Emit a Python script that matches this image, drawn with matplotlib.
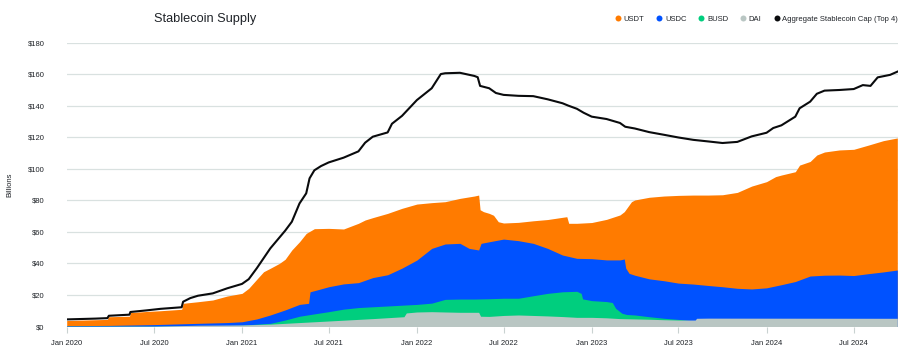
import matplotlib
matplotlib.use('Agg')
import matplotlib.pyplot as plt
import matplotlib.dates as mdates
from matplotlib.lines import Line2D
from matplotlib.ticker import FuncFormatter
import pandas as pd

plt.rcParams['font.family'] = ['Liberation Sans', 'DejaVu Sans']

# ---------------- data (billions USD) ----------------
usdt_dates = ['2020-01-01', '2020-03-26', '2020-03-28', '2020-05-11', '2020-05-13', '2020-06-15',
              '2020-07-15', '2020-08-28', '2020-08-31', '2020-10-01', '2020-11-01', '2020-12-01',
              '2021-01-01', '2021-01-15', '2021-02-01', '2021-02-15', '2021-03-01', '2021-03-20',
              '2021-04-01', '2021-04-15', '2021-05-01', '2021-05-15', '2021-06-01', '2021-07-01',
              '2021-08-01', '2021-09-01', '2021-09-15', '2021-10-01', '2021-11-01', '2021-12-01',
              '2022-01-01', '2022-02-01', '2022-03-01', '2022-04-01', '2022-05-01', '2022-05-10',
              '2022-05-13', '2022-05-20', '2022-06-01', '2022-06-10', '2022-06-20', '2022-07-01',
              '2022-08-01', '2022-09-01', '2022-10-01', '2022-11-01', '2022-11-10', '2022-11-14',
              '2022-12-01', '2023-01-01', '2023-02-01', '2023-03-01', '2023-03-10', '2023-03-25',
              '2023-04-01', '2023-05-01', '2023-06-01', '2023-07-01', '2023-08-01', '2023-09-01',
              '2023-10-01', '2023-11-01', '2023-12-01', '2024-01-01', '2024-01-20', '2024-02-01',
              '2024-03-01', '2024-03-10', '2024-04-01', '2024-04-15', '2024-05-01', '2024-06-01',
              '2024-07-01', '2024-08-01', '2024-09-01', '2024-09-30']
usdt_vals = [3.8, 4.5, 6.2, 6.5, 8.8, 9.5,
             10.0, 10.9, 14.7, 15.7, 16.8, 19.3,
             21.0, 24.2, 30.0, 34.7, 36.9, 40.0,
             42.6, 48.5, 53.7, 59.0, 62.0, 62.2,
             61.8, 65.4, 67.5, 69.0, 71.7, 74.9,
             77.6, 78.5, 79.1, 81.2, 82.7, 83.3,
             74.0, 72.8, 71.7, 70.5, 66.4, 65.6,
             66.0, 67.0, 67.8, 69.2, 69.6, 65.4,
             65.4, 65.9, 67.9, 70.7, 72.8, 79.1,
             80.2, 81.9, 82.7, 83.1, 83.3, 83.3,
             83.5, 85.0, 89.0, 91.8, 95.0, 96.0,
             98.1, 102.3, 104.6, 108.7, 110.6, 111.9,
             112.3, 115.0, 117.8, 119.5]

usdc_dates = ['2020-01-01', '2020-04-01', '2020-07-01', '2020-10-01', '2020-12-01', '2021-01-01',
              '2021-02-01', '2021-03-01', '2021-04-01', '2021-05-01', '2021-05-20', '2021-05-23',
              '2021-06-01', '2021-07-01', '2021-08-01', '2021-09-01', '2021-10-01', '2021-11-01',
              '2021-12-01', '2022-01-01', '2022-02-01', '2022-03-01', '2022-04-01', '2022-04-20',
              '2022-05-10', '2022-05-15', '2022-06-01', '2022-07-01', '2022-08-01', '2022-09-01',
              '2022-10-01', '2022-11-01', '2022-12-01', '2023-01-01', '2023-02-01', '2023-03-01',
              '2023-03-10', '2023-03-13', '2023-03-20', '2023-04-01', '2023-05-01', '2023-06-01',
              '2023-07-01', '2023-08-01', '2023-09-01', '2023-10-01', '2023-11-01', '2023-12-01',
              '2024-01-01', '2024-02-01', '2024-03-01', '2024-04-01', '2024-05-01', '2024-06-01',
              '2024-07-01', '2024-08-01', '2024-09-01', '2024-09-30']
usdc_vals = [0.5, 0.7, 1.2, 2.0, 2.5, 3.0,
             4.8, 7.3, 10.5, 14.0, 14.7, 22.0,
             22.7, 25.2, 27.0, 27.8, 31.0, 32.8,
             37.0, 42.1, 49.5, 52.3, 52.7, 49.5,
             48.5, 52.7, 53.7, 55.4, 54.4, 52.7,
             49.5, 45.3, 43.2, 43.0, 42.2, 42.2,
             42.8, 37.0, 33.7, 32.5, 30.2, 29.0,
             27.5, 26.9, 26.0, 25.2, 24.2, 23.8,
             24.5, 26.5, 28.5, 32.0, 32.5, 32.6,
             32.3, 33.5, 34.6, 35.8]

busd_dates = ['2020-01-01', '2020-07-01', '2020-10-01', '2021-01-01', '2021-02-01', '2021-03-01',
              '2021-04-01', '2021-05-01', '2021-06-01', '2021-07-01', '2021-08-01', '2021-09-01',
              '2021-10-01', '2021-11-01', '2021-12-01', '2022-01-01', '2022-02-01', '2022-03-01',
              '2022-04-01', '2022-05-01', '2022-06-01', '2022-07-01', '2022-08-01', '2022-09-01',
              '2022-10-01', '2022-11-01', '2022-12-01', '2022-12-10', '2022-12-13', '2023-01-01',
              '2023-02-01', '2023-02-13', '2023-02-20', '2023-03-05', '2023-03-15', '2023-04-01',
              '2023-05-01', '2023-06-01', '2023-07-01', '2023-08-01', '2023-09-01', '2023-10-01',
              '2023-11-01', '2023-12-01', '2024-01-01', '2024-04-01', '2024-09-30']
busd_vals = [0.15, 0.2, 0.3, 0.8, 1.5, 2.0,
             4.1, 6.5, 8.0, 9.4, 11.0, 12.0,
             12.5, 13.0, 13.5, 14.0, 14.8, 17.2,
             17.4, 17.4, 17.6, 17.9, 17.9, 19.5,
             21.0, 22.0, 22.3, 21.0, 17.5, 16.4,
             15.8, 15.2, 11.5, 8.4, 7.6, 7.3,
             6.2, 5.2, 4.5, 3.5, 2.8, 2.5,
             2.0, 1.5, 1.0, 0.3, 0.06]

dai_dates = ['2020-01-01', '2020-07-01', '2020-10-01', '2021-01-01', '2021-03-01', '2021-04-01',
             '2021-05-01', '2021-06-01', '2021-08-01', '2021-10-01', '2021-12-05', '2021-12-10',
             '2022-01-01', '2022-02-01', '2022-03-01', '2022-04-01', '2022-05-10', '2022-05-14',
             '2022-06-01', '2022-07-01', '2022-08-01', '2022-09-01', '2022-10-01', '2022-11-01',
             '2022-12-01', '2023-01-01', '2023-02-01', '2023-03-01', '2023-04-01', '2023-05-01',
             '2023-06-01', '2023-07-01', '2023-08-05', '2023-08-08', '2023-09-01', '2024-09-30']
dai_vals = [0.1, 0.2, 0.8, 1.0, 1.5, 2.0,
            2.5, 3.0, 4.0, 5.0, 6.2, 8.6,
            9.2, 9.4, 9.2, 9.0, 9.0, 6.5,
            6.4, 7.0, 7.3, 7.0, 6.7, 6.3,
            5.8, 5.8, 5.5, 5.0, 4.8, 4.6,
            4.3, 4.1, 4.1, 5.2, 5.3, 5.2]

total_dates = ['2020-01-01', '2020-03-01', '2020-03-26', '2020-03-29', '2020-05-11', '2020-05-13',
               '2020-06-15', '2020-07-15', '2020-08-28', '2020-08-31', '2020-09-15', '2020-10-01',
               '2020-11-01', '2020-12-01', '2021-01-01', '2021-01-15', '2021-02-01', '2021-03-01',
               '2021-04-01', '2021-04-15', '2021-05-01', '2021-05-15', '2021-05-22', '2021-06-01',
               '2021-06-15', '2021-07-01', '2021-08-01', '2021-09-01', '2021-09-15', '2021-10-01',
               '2021-11-01', '2021-11-10', '2021-12-01', '2022-01-01', '2022-02-01', '2022-02-20',
               '2022-03-01', '2022-04-01', '2022-05-01', '2022-05-08', '2022-05-13', '2022-06-01',
               '2022-06-15', '2022-07-01', '2022-08-01', '2022-09-01', '2022-10-01', '2022-11-01',
               '2022-11-13', '2022-12-01', '2022-12-15', '2023-01-01', '2023-02-01', '2023-03-01',
               '2023-03-12', '2023-04-01', '2023-05-01', '2023-06-01', '2023-07-01', '2023-08-01',
               '2023-09-01', '2023-10-01', '2023-11-01', '2023-12-01', '2024-01-01', '2024-01-15',
               '2024-02-01', '2024-03-01', '2024-03-10', '2024-04-01', '2024-04-15', '2024-05-01',
               '2024-06-01', '2024-07-01', '2024-07-20', '2024-08-05', '2024-08-20', '2024-09-15',
               '2024-09-30']
total_vals = [4.5, 5.0, 5.3, 6.8, 7.5, 9.2,
              10.2, 11.2, 12.2, 15.7, 18.0, 19.5,
              21.0, 24.2, 27.0, 30.0, 37.0, 49.5,
              60.7, 66.4, 78.0, 84.4, 93.9, 99.0,
              101.7, 104.0, 107.0, 111.0, 116.5, 120.3,
              123.0, 128.5, 133.5, 143.5, 151.0, 160.0,
              160.5, 160.8, 158.8, 158.0, 152.5, 151.0,
              148.0, 146.8, 146.2, 146.0, 144.0, 141.5,
              140.0, 138.0, 135.5, 133.0, 131.5, 129.0,
              126.6, 125.5, 123.2, 121.5, 119.8, 118.3,
              117.3, 116.3, 117.0, 120.5, 122.8, 125.8,
              127.5, 133.0, 138.3, 142.5, 147.5, 149.5,
              149.9, 150.5, 153.0, 152.5, 157.9, 159.5,
              161.5]

y_ticks = [0, 20, 40, 60, 80, 100, 120, 140, 160, 180]
x_ticks = ['2020-01-01', '2020-07-01', '2021-01-01', '2021-07-01', '2022-01-01',
           '2022-07-01', '2023-01-01', '2023-07-01', '2024-01-01', '2024-07-01']

# ---------------- style ----------------
C_USDT = '#FF7B00'
C_USDC = '#0052FF'
C_BUSD = '#00CE7E'
C_DAI = '#B9C6C3'
C_TOT = '#0A0B0D'
GRID = '#D9E1E0'
TXT = '#1F2328'

fig = plt.figure(figsize=(9.04, 3.52), dpi=100)
ax = fig.add_axes([66.7 / 904, 1 - 326.5 / 352, (897.8 - 66.7) / 904, (326.5 - 42.5) / 352])

series = [
    (usdt_dates, usdt_vals, C_USDT),
    (usdc_dates, usdc_vals, C_USDC),
    (busd_dates, busd_vals, C_BUSD),
    (dai_dates, dai_vals, C_DAI),
]
for d, v, c in series:
    ax.fill_between(pd.to_datetime(d), 0, v, color=c, linewidth=0, zorder=2)

ax.plot(pd.to_datetime(total_dates), total_vals, color=C_TOT, lw=1.5, zorder=4,
        solid_joinstyle='round')

ax.set_xlim(pd.Timestamp('2020-01-01'), pd.Timestamp('2024-10-01'))
ax.set_ylim(0, 180)
ax.set_yticks(y_ticks)
ax.yaxis.set_major_formatter(FuncFormatter(lambda v, p: f'${int(v)}'))
ax.set_xticks(pd.to_datetime(x_ticks))
ax.xaxis.set_major_formatter(mdates.DateFormatter('%b %Y'))

ax.grid(axis='y', color=GRID, lw=0.9, zorder=0)
ax.set_axisbelow(True)
for s in ax.spines.values():
    s.set_visible(False)
ax.tick_params(axis='y', length=0, pad=16, labelsize=5.5, labelcolor=TXT)
ax.tick_params(axis='x', length=4.5, width=0.8, color='#C9D2D1', pad=5,
               labelsize=5.5, labelcolor=TXT)
ax.set_ylabel('Billions', fontsize=5.5, color=TXT)
ax.yaxis.set_label_coords(-0.064, 0.5)

fig.text(154 / 904, 1 - 19 / 352, 'Stablecoin Supply', fontsize=9.2, color=TXT,
         ha='left', va='center')

labels = ['USDT', 'USDC', 'BUSD', 'DAI', 'Aggregate Stablecoin Cap (Top 4)']
colors = [C_USDT, C_USDC, C_BUSD, C_DAI, C_TOT]
handles = [Line2D([], [], marker='o', linestyle='None', markersize=4.3,
                  markerfacecolor=c, markeredgewidth=0) for c in colors]
fig.legend(handles, labels, ncol=5, loc='center right',
           bbox_to_anchor=(898 / 904, 1 - 19 / 352), frameon=False, fontsize=5.5,
           handletextpad=0.25, columnspacing=1.45, handlelength=1.0, borderpad=0,
           borderaxespad=0, labelcolor=TXT)

fig.savefig('out.png', dpi=100)
